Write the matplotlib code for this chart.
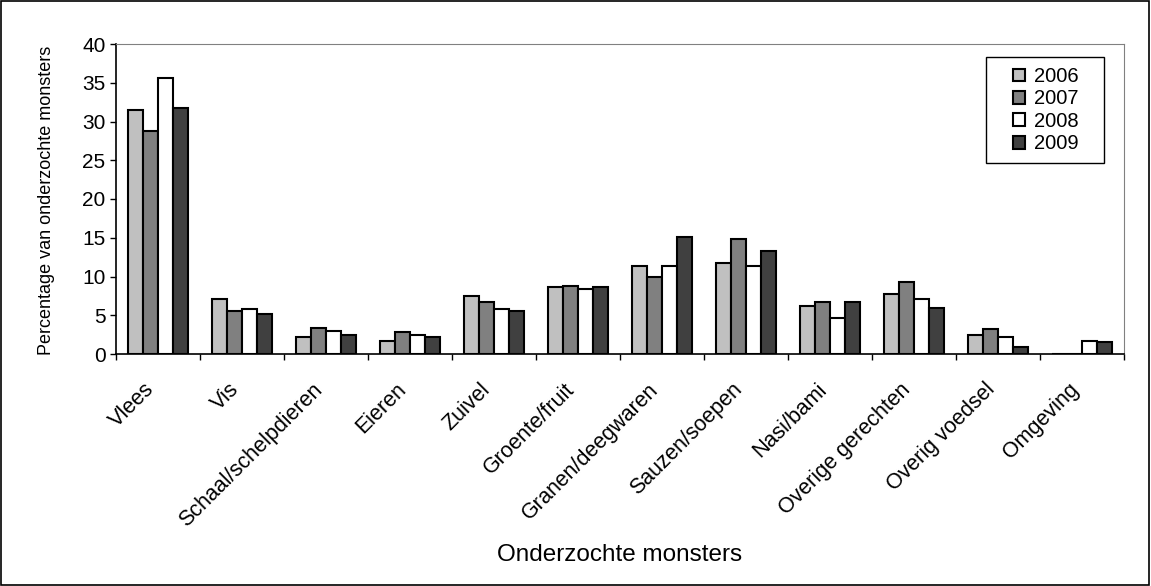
import matplotlib.pyplot as plt
import matplotlib.transforms as mtrans
import numpy as np
from matplotlib.patches import Rectangle

plt.rcParams['font.family'] = ['Liberation Sans', 'DejaVu Sans']

categories = ['Vlees', 'Vis', 'Schaal/schelpdieren', 'Eieren', 'Zuivel', 'Groente/fruit',
              'Granen/deegwaren', 'Sauzen/soepen', 'Nasi/bami', 'Overige gerechten',
              'Overig voedsel', 'Omgeving']
years = ['2006', '2007', '2008', '2009']
v2006 = [31.5, 7.1, 2.15, 1.7, 7.5, 8.6, 11.4, 11.8, 6.2, 7.7, 2.4, 0]
v2007 = [28.8, 5.6, 3.4, 2.8, 6.7, 8.8, 9.9, 14.8, 6.7, 9.25, 3.2, 0]
v2008 = [35.6, 5.8, 3.0, 2.4, 5.8, 8.4, 11.4, 11.4, 4.7, 7.1, 2.15, 1.7]
v2009 = [31.7, 5.2, 2.4, 2.15, 5.6, 8.6, 15.05, 13.3, 6.7, 6.0, 0.86, 1.5]
series = [v2006, v2007, v2008, v2009]
colors = ['#c0c0c0', '#808080', '#ffffff', '#404040']

W, H = 1151, 586
fig = plt.figure(figsize=(W / 100, H / 100), dpi=100)
ax = fig.add_axes([116 / W, 1 - 354 / H, 1008 / W, 310 / H])

x = np.arange(len(categories))
w = 0.18
for i, (vals, c) in enumerate(zip(series, colors)):
    ax.bar(x + (i - 1.5) * w, vals, w, color=c, edgecolor='black', linewidth=1.5, label=years[i])

ax.set_xlim(-0.5, len(categories) - 0.5)
ax.set_ylim(0, 40)
ax.set_yticks(range(0, 41, 5))
ax.set_xticks(x)
ax.set_xticklabels(categories, rotation=45, ha='right', rotation_mode='anchor')
ax.set_xticks(np.arange(-0.5, len(categories), 1), minor=True)
ax.tick_params(axis='x', which='major', length=0, labelsize=15.5, pad=18)
ax.tick_params(axis='x', which='minor', length=4.5, width=1, direction='out')
ax.tick_params(axis='y', labelsize=15, length=4.5, width=1, pad=3)

# nudge rotated category labels to the left
shift = mtrans.ScaledTranslation(-0.14, 0, fig.dpi_scale_trans)
for lab in ax.get_xticklabels():
    lab.set_transform(lab.get_transform() + shift)

for s in ['top', 'right']:
    ax.spines[s].set_color('#808080')
for s in ['left', 'bottom']:
    ax.spines[s].set_color('black')
    ax.spines[s].set_linewidth(1.2)

fig.text(47 / W, 1 - 200 / H, 'Percentage van onderzochte monsters', rotation=90,
         ha='center', va='center', fontsize=13)
fig.text(620 / W, 1 - 561 / H, 'Onderzochte monsters', ha='center', va='baseline', fontsize=17.5)

leg = ax.legend(loc='upper left', bbox_to_anchor=((1013 - 116) / 1008, (354 - 67) / 310),
                fontsize=14.5, frameon=False, handlelength=0.6, handleheight=0.6,
                handletextpad=0.45, labelspacing=0.17, borderpad=0.0, borderaxespad=0.0)
fig.patches.append(Rectangle((986 / W, 1 - 163 / H), 118 / W, 106 / H, transform=fig.transFigure,
                             fill=False, edgecolor='black', linewidth=1.0))

fig.patches.append(Rectangle((0.0005, 0.001), 0.998, 0.997, transform=fig.transFigure,
                             fill=False, edgecolor='black', linewidth=1.2))

fig.savefig('out.png', dpi=100)
